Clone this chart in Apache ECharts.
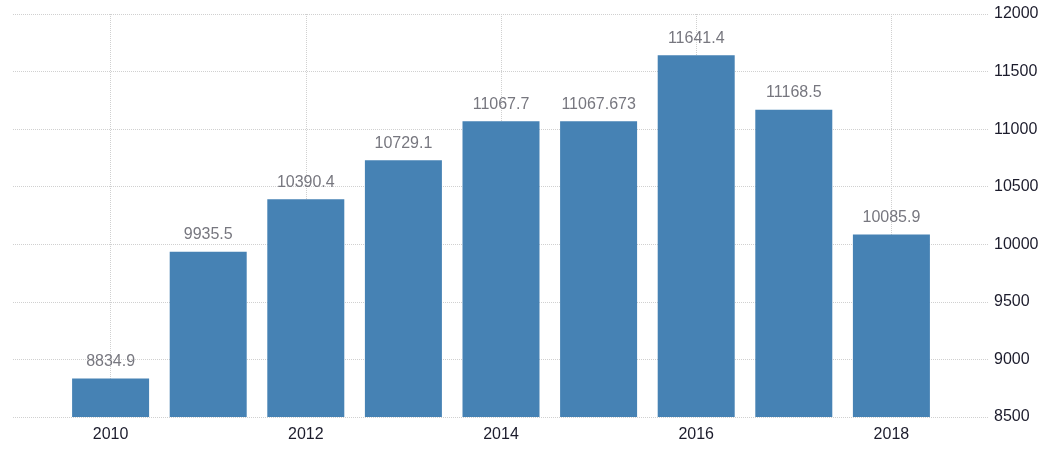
<!DOCTYPE html>
<html>
<head>
<meta charset="utf-8">
<script src="https://cdn.jsdelivr.net/npm/echarts@6/dist/echarts.min.js"></script>
<style>
  html, body { margin: 0; padding: 0; background: #fff; }
  #chart { width: 1043px; height: 450px; }
</style>
</head>
<body>
<div id="chart"></div>
<script>
// Annual values, 2010–2018
const years = [2010, 2011, 2012, 2013, 2014, 2015, 2016, 2017, 2018];
const values = [8834.9, 9935.5, 10390.4, 10729.1, 11067.7, 11067.673, 11641.4, 11168.5, 10085.9];
const xTicks = [2010, 2012, 2014, 2016, 2018];
const yMin = 8500, yMax = 12000, yStep = 500;

const FONT = '"Liberation Sans", Arial, sans-serif';
const gridLine = { show: true, lineStyle: { color: '#d0d0d0', type: [1, 1], width: 1 } };

const chart = echarts.init(document.getElementById('chart'), null, { renderer: 'canvas' });
chart.setOption({
  animation: false,
  backgroundColor: '#ffffff',
  grid: { left: 13, right: 54, top: 14, bottom: 33, containLabel: false, outerBoundsMode: 'none' },
  xAxis: {
    type: 'value',
    min: years[0] - 1,
    max: years[years.length - 1] + 1,
    axisLine: { show: false },
    axisTick: { show: false, customValues: xTicks },
    axisLabel: {
      customValues: xTicks,
      color: '#1c1c2c',
      fontFamily: FONT,
      fontSize: 16,
      margin: 10,
      formatter: v => String(v)
    },
    splitLine: gridLine
  },
  yAxis: {
    type: 'value',
    position: 'right',
    min: yMin,
    max: yMax,
    interval: yStep,
    axisLine: { show: false },
    axisTick: { show: false },
    axisLabel: {
      color: '#1c1c2c',
      fontFamily: FONT,
      fontSize: 16,
      margin: 5,
      formatter: v => String(v)
    },
    splitLine: gridLine
  },
  series: [{
    type: 'bar',
    barWidth: 77,
    data: years.map((y, i) => [y, values[i]]),
    itemStyle: { color: '#4682b4' },
    label: {
      show: true,
      position: 'top',
      distance: 9,
      color: '#77777f',
      fontFamily: FONT,
      fontSize: 16,
      formatter: p => String(p.value[1])
    }
  }]
});
</script>
</body>
</html>
